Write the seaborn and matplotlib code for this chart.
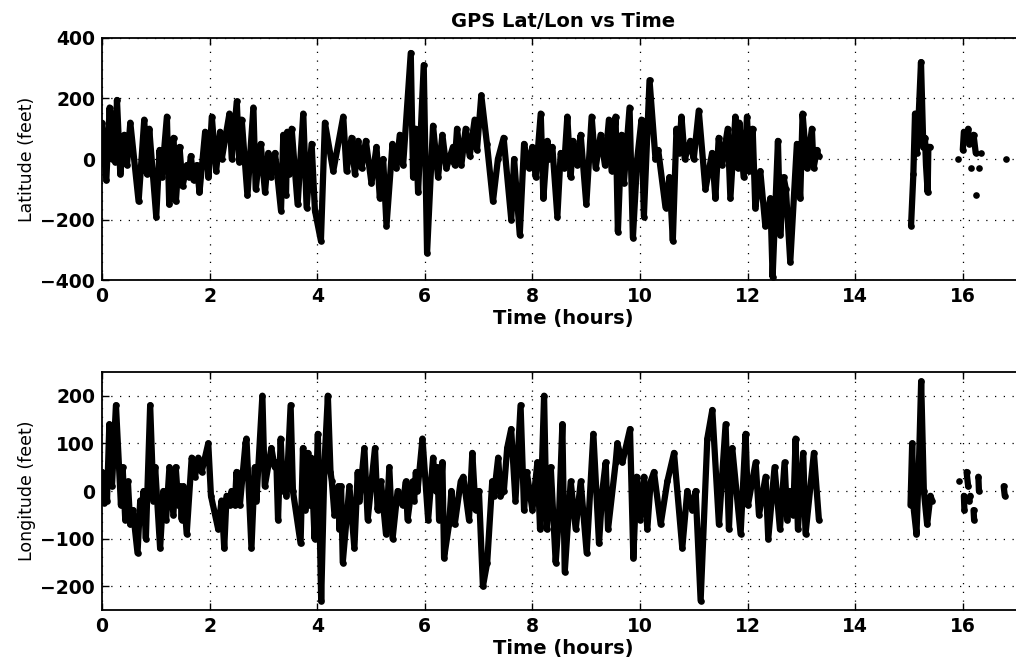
import numpy as np
import pandas as pd
import matplotlib
matplotlib.use("Agg")
import matplotlib.pyplot as plt
import seaborn as sns

# ---------------- data ----------------
title = "GPS Lat/Lon vs Time"
xlabel = "Time (hours)"
lat_label = "Latitude (feet)"
lon_label = "Longitude (feet)"
x_ticks = [0, 2, 4, 6, 8, 10, 12, 14, 16]
lat_ticks = [-400, -200, 0, 200, 400]
lon_ticks = [-200, -100, 0, 100, 200]

# Latitude, main track 0 - 13.3 h
lat_main_t = [0.0, 0.08, 0.142, 0.186, 0.216, 0.247, 0.278, 0.34, 0.414, 0.464, 0.526, 0.68,
              0.785, 0.835, 0.878, 1.008, 1.07, 1.113, 1.206, 1.249, 1.33, 1.373, 1.441, 1.497,
              1.577, 1.608, 1.651, 1.701, 1.763, 1.812, 1.917, 1.979, 2.041, 2.121, 2.195, 2.226,
              2.369, 2.412, 2.505, 2.554, 2.597, 2.703, 2.814, 2.857, 2.95, 3.03, 3.092, 3.135,
              3.216, 3.327, 3.37, 3.42, 3.444, 3.482, 3.525, 3.636, 3.741, 3.803, 3.896, 3.958,
              4.069, 4.143, 4.298, 4.484, 4.545, 4.638, 4.70, 4.762, 4.824, 4.904, 5.009, 5.102,
              5.164, 5.226, 5.288, 5.399, 5.473, 5.535, 5.597, 5.739, 5.782, 5.832, 5.875, 5.98,
              6.042, 6.153, 6.246, 6.327, 6.401, 6.524, 6.555, 6.599, 6.679, 6.759, 6.834, 6.926,
              6.97, 7.05, 7.155, 7.267, 7.359, 7.465, 7.607, 7.66, 7.765, 7.845, 7.938, 8.0,
              8.062, 8.155, 8.204, 8.278, 8.309, 8.371, 8.464, 8.526, 8.588, 8.649, 8.711, 8.754,
              8.835, 8.897, 9.002, 9.101, 9.175, 9.268, 9.348, 9.422, 9.472, 9.546, 9.589, 9.657,
              9.70, 9.806, 9.868, 9.948, 10.028, 10.072, 10.177, 10.288, 10.338, 10.474, 10.548,
              10.61, 10.678, 10.721, 10.771, 10.832, 10.937, 10.999, 11.092, 11.216, 11.34,
              11.401, 11.463, 11.525, 11.63, 11.68, 11.772, 11.816, 11.847, 11.927, 11.989,
              12.032, 12.094, 12.143, 12.236, 12.329, 12.422, 12.465, 12.564, 12.607, 12.669,
              12.712, 12.793, 12.916, 12.978, 13.022, 13.102, 13.195, 13.226, 13.288, 13.318]
lat_main_v = [120, -70, 170, 0, 150, -10, 195, -50, 80, -20, 120, -140,
              130, -50, 100, -190, 30, -60, 140, -150, 70, -140, 40, -90,
              -20, -60, 10, -70, -20, -110, 90, -60, 140, -40, 90, 0,
              150, 0, 190, -10, 130, -120, 170, -100, 50, -110, 20, -60,
              20, -170, 80, -120, 90, -50, 100, -150, 150, -160, 50, -170,
              -270, 120, -40, 140, -40, 70, -50, 60, -30, 60, -80, 40,
              -130, 0, -220, 50, -30, 80, -20, 350, -60, 100, -110, 310,
              -310, 110, -60, 80, -30, 40, -20, 100, -20, 100, 10, 130,
              30, 210, 50, -140, 0, 70, -200, 0, -250, 50, -30, 40,
              -60, 150, -130, 60, 0, 40, -190, 20, -30, 140, -60, 60,
              -20, 80, -150, 140, -30, 80, -20, 130, -40, 140, -240, 80,
              -80, 170, -260, 0, 130, -190, 260, 0, 30, -160, -60,
              -270, 100, 20, 140, 0, 60, 0, 160, -100, 20,
              -130, 70, -20, 100, -130, 140, -30, 120, -60, 140,
              -40, 100, -160, -40, -220, -130, -390, 60, -250, -60,
              -100, -340, 50, -130, 150, -30, 100, -30, 30, 10]
# Latitude, burst near 15 h
lat_burst_t = [15.038, 15.081, 15.112, 15.143, 15.174, 15.223, 15.266, 15.297, 15.316, 15.347, 15.36, 15.396]
lat_burst_v = [-220, -50, 150, 20, 120, 320, 40, 70, -20, -110, 40, 40]
# Latitude, scattered fixes after 15.9 h (pairs = short streaks)
lat_spots_t = [[15.92], [16.0, 16.02], [16.1, 16.12], [16.15], [16.2, 16.24], [16.25], [16.3], [16.33], [16.8]]
lat_spots_v = [[0], [30, 90], [100, 50], [-30], [80, 20], [-120], [-30], [20], [0]]

# Longitude, main track 0 - 13.3 h
lon_main_t = [0.0, 0.031, 0.074, 0.093, 0.136, 0.185, 0.259, 0.352, 0.383, 0.432, 0.481, 0.525,
              0.574, 0.66, 0.71, 0.728, 0.772, 0.815, 0.895, 0.957, 0.988, 1.08, 1.142, 1.191,
              1.253, 1.327, 1.37, 1.42, 1.451, 1.481, 1.512, 1.574, 1.667, 1.728, 1.79, 1.852,
              1.914, 1.975, 2.025, 2.16, 2.222, 2.272, 2.315, 2.377, 2.407, 2.469, 2.5, 2.562,
              2.667, 2.685, 2.778, 2.84, 2.87, 2.981, 3.025, 3.148, 3.21, 3.241, 3.272, 3.321,
              3.364, 3.395, 3.426, 3.506, 3.549, 3.691, 3.735, 3.778, 3.827, 3.858, 3.889, 3.951,
              4.012, 4.074, 4.136, 4.198, 4.247, 4.272, 4.321, 4.395, 4.414, 4.444, 4.475, 4.599,
              4.691, 4.753, 4.784, 4.877, 4.938, 5.074, 5.123, 5.185, 5.278, 5.34, 5.401, 5.494,
              5.586, 5.648, 5.679, 5.772, 5.802, 5.833, 5.864, 5.957, 6.062, 6.154, 6.204, 6.235,
              6.265, 6.327, 6.358, 6.451, 6.494, 6.556, 6.667, 6.716, 6.821, 6.883, 6.944, 7.006,
              7.08, 7.16, 7.253, 7.284, 7.364, 7.407, 7.469, 7.531, 7.605, 7.685, 7.78, 7.845,
              7.895, 8.0, 8.093, 8.142, 8.217, 8.266, 8.341, 8.433, 8.495, 8.557, 8.601, 8.712,
              8.805, 8.898, 9.009, 9.133, 9.238, 9.3, 9.362, 9.406, 9.548, 9.579, 9.672, 9.814,
              9.876, 9.938, 10.0, 10.074, 10.136, 10.198, 10.26, 10.384, 10.508, 10.632, 10.786,
              10.879, 10.972, 11.034, 11.127, 11.251, 11.344, 11.467, 11.591, 11.653, 11.715,
              11.87, 11.963, 12.006, 12.149, 12.211, 12.334, 12.384, 12.501, 12.601, 12.687,
              12.737, 12.786, 12.848, 12.892, 12.935, 13.034, 13.077, 13.232, 13.325]
lon_main_v = [40, -25, 30, -20, 140, 10, 180, -30, 50, -60, 20, -70,
              -40, -130, -20, -60, 0, -100, 180, -20, 50, -120, 0, -60,
              50, -50, 50, -30, 10, -60, 10, -90, 70, 30, 70, 40,
              70, 100, -10, -80, -20, -120, -10, -30, 0, -30, 40, -30,
              100, 110, -120, 50, -20, 200, 10, 90, 50, 60, -60, 110,
              0, 50, -10, 180, 0, -110, 90, -40, 80, -30, 70, -100,
              120, -230, 60, 200, 40, 20, -50, 10, -80, 10, -150, 10,
              -120, 40, -20, 90, -60, 90, -40, 20, -90, 50, -100, 0,
              -30, 20, -60, 20, -20, 40, 0, 110, -60, 70, 0, 50,
              -60, 60, -140, -70, 0, -70, 20, 30, -60, 80, -40, 0,
              -200, -150, 20, -10, 70, -10, 0, 90, 130, -20, 180, -40,
              40, -40, 60, -80, 200, -80, 50, -150, -50, 140, -170, 20,
              -80, 20, -130, 120, -110, 0, 60, -80, 60, 100, 60, 130,
              -140, 30, -60, 30, -80, 20, 40, -70, 20, 80, -120,
              0, -40, 0, -230, 110, 170, -70, 140, -80, 90,
              -90, 120, -30, 60, -50, 30, -100, 50, -80, 60,
              -60, 0, -50, 110, -80, 80, -90, 80, -60]
# Longitude, burst near 15 h
lon_burst_t = [15.028, 15.059, 15.09, 15.139, 15.183, 15.226, 15.276, 15.337, 15.399, 15.43]
lon_burst_v = [-30, 100, -40, -90, 50, 230, 0, -70, -10, -20]
# Longitude, scattered fixes after 15.9 h
lon_spots_t = [[15.93], [16.02, 16.03], [16.07, 16.1], [16.12, 16.14], [16.2, 16.21], [16.29, 16.3], [16.76, 16.78]]
lon_spots_v = [[20], [-10, -40], [40, 10], [-20, -10], [-40, -60], [30, 0], [10, -10]]


def build_frame(main_t, main_v, burst_t, burst_v, spots_t, spots_v):
    rows = []
    for t, v in zip(main_t, main_v):
        rows.append((t, v, "main"))
    for t, v in zip(burst_t, burst_v):
        rows.append((t, v, "burst"))
    for i, (ts, vs) in enumerate(zip(spots_t, spots_v)):
        for t, v in zip(ts, vs):
            rows.append((t, v, f"spot{i}"))
    return pd.DataFrame(rows, columns=["t", "v", "seg"])


lat_df = build_frame(lat_main_t, lat_main_v, lat_burst_t, lat_burst_v, lat_spots_t, lat_spots_v)
lon_df = build_frame(lon_main_t, lon_main_v, lon_burst_t, lon_burst_v, lon_spots_t, lon_spots_v)

# ---------------- figure ----------------
sns.set_style("ticks")
plt.rcParams["font.family"] = ["DejaVu Sans"]
for key in ["text.color", "axes.labelcolor", "xtick.color", "ytick.color", "axes.edgecolor"]:
    plt.rcParams[key] = "black"

fig = plt.figure(figsize=(10.16, 6.64), dpi=100)
ax1 = fig.add_axes([0.1004, 0.578, 0.9076, 0.365])
ax2 = fig.add_axes([0.1004, 0.081, 0.9076, 0.359])

x_max = 17.14

for ax, df, yl, yt, ylim in [
    (ax1, lat_df, lat_label, lat_ticks, (-400, 400)),
    (ax2, lon_df, lon_label, lon_ticks, (-250, 250)),
]:
    sns.lineplot(data=df, x="t", y="v", units="seg", estimator=None, sort=False,
                 color="black", linewidth=4.5, marker="o", markersize=4.8,
                 markeredgewidth=0, ax=ax, legend=False)
    ax.set_xlim(0, x_max)
    ax.set_ylim(*ylim)
    ax.set_xticks(x_ticks)
    ax.set_yticks(yt)
    ax.grid(True, color="black", linestyle=(0, (1, 6)), linewidth=0.9)
    ax.tick_params(direction="in", top=True, right=True, length=5, width=1,
                   labelsize=13.5, pad=5, colors="black")
    for lab in ax.get_xticklabels() + ax.get_yticklabels():
        lab.set_fontweight("bold")
    for s in ax.spines.values():
        s.set_linewidth(1.3)
        s.set_color("black")
    ax.set_xlabel(xlabel, fontsize=14, fontweight="bold", labelpad=2, color="black")
    ax.set_ylabel(yl, fontsize=12.5, labelpad=3, color="black")

ax1.set_title(title, fontsize=14, fontweight="bold", pad=8, color="black")

fig.savefig("out.png", dpi=100)
